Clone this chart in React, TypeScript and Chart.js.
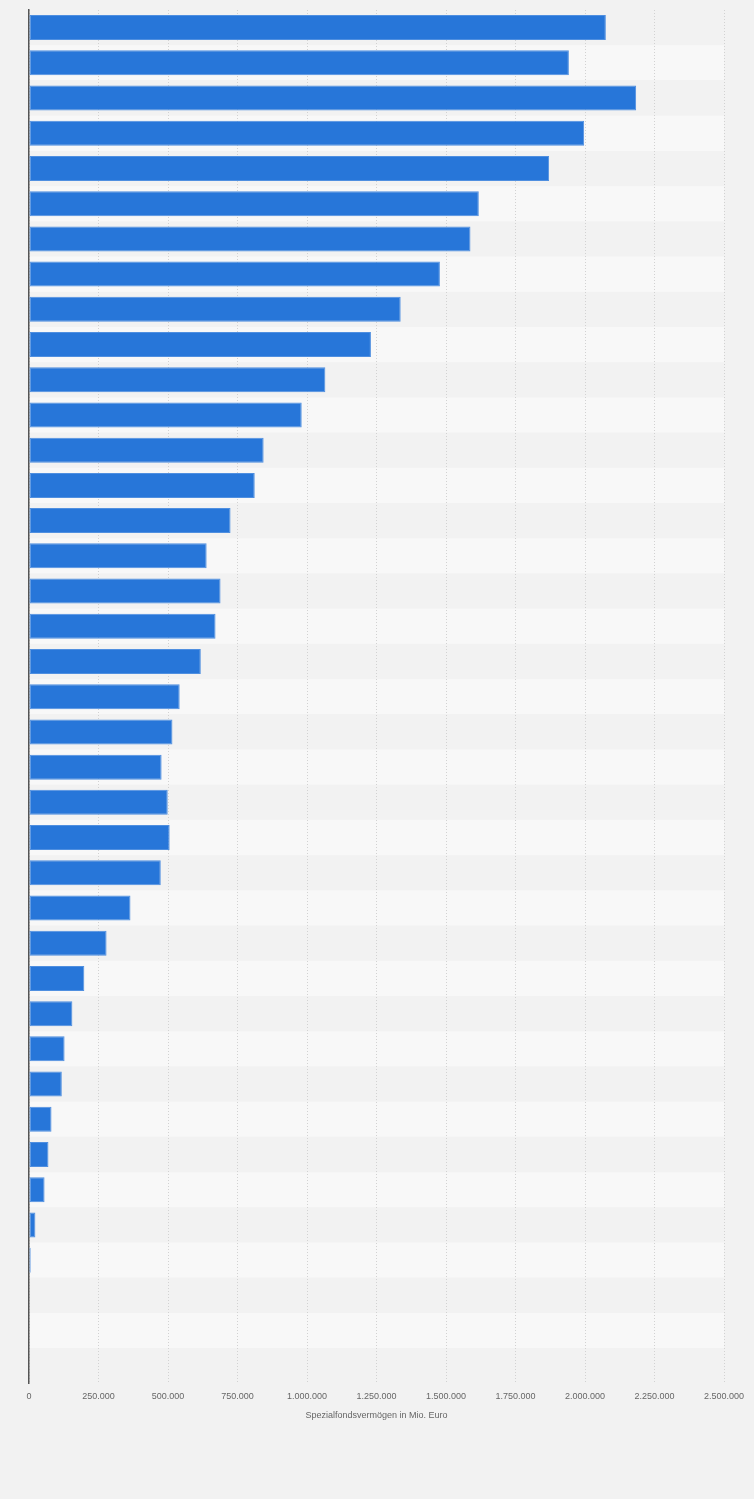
import { useEffect, useRef } from "react";
import { Chart, registerables } from "chart.js";

Chart.register(...registerables);

// years, newest first (the reference hides the category labels)
const years = [
  "2023", "2022", "2021", "2020", "2019", "2018", "2017", "2016", "2015", "2014",
  "2013", "2012", "2011", "2010", "2009", "2008", "2007", "2006", "2005", "2004",
  "2003", "2002", "2001", "2000", "1999", "1998", "1997", "1996", "1995", "1994",
  "1993", "1992", "1991", "1990", "1989", "1988", "1987", "1986", "1985"
];

// Spezialfondsvermögen in Mio. Euro
const assets: (number | null)[] = [
  2075000, 1942000, 2184000, 1997000, 1871000, 1618000, 1588000, 1478000, 1337000, 1230000,
  1066000, 981000, 844000, 812000, 725000, 639000, 689000, 671000, 618000, 542000,
  516000, 477000, 499000, 506000, 474000, 365000, 279000, 199000, 156000, 128000,
  118000, 81000, 70000, 56000, 23000, 6000, null, null, null
];

const xTicks = [0, 250000, 500000, 750000, 1000000, 1250000, 1500000, 1750000, 2000000, 2250000, 2500000];

const axisTitle = "Spezialfondsvermögen in Mio. Euro";

function formatDe(value: number): string {
  return String(Math.round(value)).replace(/\B(?=(\d{3})+(?!\d))/g, ".");
}

const stripes = {
  id: "stripes",
  beforeDraw(chart: Chart) {
    const { ctx, chartArea } = chart;
    const n = chart.data.labels?.length ?? 1;
    const step = (chartArea.bottom - chartArea.top) / n;
    ctx.save();
    for (let i = 0; i < n; i++) {
      ctx.fillStyle = i % 2 === 0 ? "#f2f2f2" : "#f8f8f8";
      ctx.fillRect(chartArea.left, chartArea.top + i * step, chartArea.right - chartArea.left, step);
    }
    ctx.restore();
  }
};

export default function App() {
  const canvasRef = useRef<HTMLCanvasElement | null>(null);

  useEffect(() => {
    const canvas = canvasRef.current;
    if (!canvas) return;

    const chart = new Chart(canvas, {
      type: "bar",
      data: {
        labels: years,
        datasets: [
          {
            data: assets,
            backgroundColor: "#2776d9",
            borderColor: "#4f8fe0",
            borderWidth: 1,
            borderSkipped: false,
            barPercentage: 0.71,
            categoryPercentage: 1
          }
        ]
      },
      options: {
        indexAxis: "y",
        animation: false,
        responsive: false,
        maintainAspectRatio: false,
        layout: { padding: { top: 10, left: 29, right: 30, bottom: 78 } },
        plugins: {
          legend: { display: false },
          tooltip: { enabled: false }
        },
        scales: {
          x: {
            min: 0,
            max: 2500000,
            afterBuildTicks: (axis) => {
              axis.ticks = xTicks.map((value) => ({ value }));
            },
            ticks: {
              color: "#666",
              font: { family: "Liberation Sans, Arial, sans-serif", size: 9 },
              padding: 8,
              maxRotation: 0,
              autoSkip: false,
              callback: (value) => formatDe(Number(value))
            },
            grid: {
              color: "#d2d2d2",
              lineWidth: 1,
              drawTicks: false
            },
            border: { display: false, dash: [1, 2] },
            title: {
              display: true,
              text: axisTitle,
              color: "#666",
              font: { family: "Liberation Sans, Arial, sans-serif", size: 9 },
              padding: { top: 0, bottom: 0 }
            }
          },
          y: {
            ticks: { display: false },
            grid: { display: false, drawTicks: false },
            border: { display: true, color: "#555", width: 1.5 }
          }
        }
      },
      plugins: [stripes]
    });

    return () => chart.destroy();
  }, []);

  return (
    <div style={{ position: "fixed", left: 0, top: 0, width: 754, height: 1499, background: "#f2f2f2" }}>
      <canvas ref={canvasRef} width={754} height={1499} style={{ width: 754, height: 1499 }} />
    </div>
  );
}
